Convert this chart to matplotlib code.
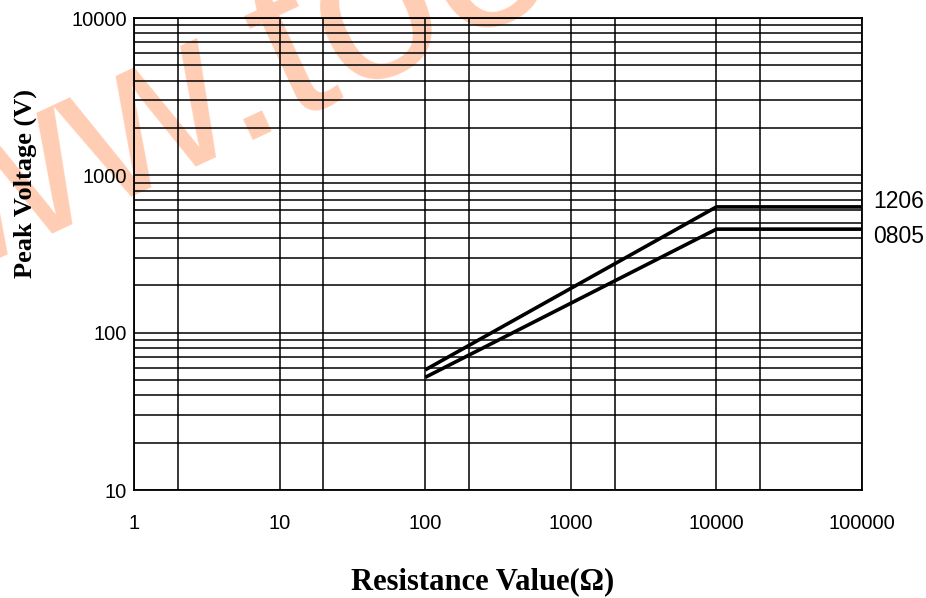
import matplotlib
matplotlib.use("Agg")
import matplotlib.pyplot as plt
from matplotlib.ticker import FixedLocator, FixedFormatter, NullFormatter

# Peak voltage derating curves
resistance_1206 = [100, 10000, 100000]
voltage_1206 = [58, 630, 630]
resistance_0805 = [100, 10000, 100000]
voltage_0805 = [52, 455, 455]
series_labels = ["1206", "0805"]

x_major = [1, 10, 100, 1000, 10000, 100000]
x_minor = [2, 20, 200, 2000, 20000]
y_major = [10, 100, 1000, 10000]
y_minor = [m * d for d in (10, 100, 1000) for m in range(2, 10)]

W, H = 926, 598
fig = plt.figure(figsize=(W / 100, H / 100), dpi=100)
ax = fig.add_axes([134 / W, 1 - 490 / H, (862 - 134) / W, (490 - 18) / H])

ax.set_xscale("log")
ax.set_yscale("log")
ax.set_xlim(1, 100000)
ax.set_ylim(10, 10000)

ax.xaxis.set_major_locator(FixedLocator(x_major))
ax.xaxis.set_minor_locator(FixedLocator(x_minor))
ax.yaxis.set_major_locator(FixedLocator(y_major))
ax.yaxis.set_minor_locator(FixedLocator(y_minor))
ax.xaxis.set_major_formatter(FixedFormatter([str(v) for v in x_major]))
ax.yaxis.set_major_formatter(FixedFormatter([str(v) for v in y_major]))
ax.xaxis.set_minor_formatter(NullFormatter())
ax.yaxis.set_minor_formatter(NullFormatter())

tick_font = ["Liberation Sans", "DejaVu Sans"]
ax.tick_params(which="both", length=0)
ax.tick_params(axis="x", pad=17)
ax.tick_params(axis="y", pad=5)
for lab in ax.get_xticklabels() + ax.get_yticklabels():
    lab.set_family(tick_font)
    lab.set_fontsize(14.5)

ax.grid(True, which="both", color="black", linewidth=1.1)
for sp in ax.spines.values():
    sp.set_linewidth(1.3)

ax.plot(resistance_1206, voltage_1206, color="black", linewidth=2.6, solid_capstyle="butt", zorder=3)
ax.plot(resistance_0805, voltage_0805, color="black", linewidth=2.6, solid_capstyle="butt", zorder=3)

label_offsets = [(8, 4), (8, -5)]
for lbl, xs, ys, off in ((series_labels[0], resistance_1206, voltage_1206, label_offsets[0]),
                         (series_labels[1], resistance_0805, voltage_0805, label_offsets[1])):
    ax.annotate(lbl, xy=(xs[-1], ys[-1]), xytext=off, textcoords="offset points",
                ha="left", va="center", fontsize=16.5, family=tick_font,
                annotation_clip=False)

label_font = ["Liberation Serif", "DejaVu Serif"]
fig.text(483 / W, 1 - 582 / H, "Resistance Value(Ω)", ha="center", va="center",
         fontsize=22, fontweight="bold", family=label_font)
fig.text(25 / W, 1 - 184 / H, "Peak Voltage (V)", ha="center", va="center",
         rotation=90, fontsize=19, fontweight="bold", family=label_font)

# site watermark
ax.text(-185 / W, 1 - 344 / H, "www.tooo", transform=fig.transFigure,
        rotation=25, rotation_mode="anchor", ha="left", va="baseline",
        fontsize=158, family=tick_font, color="#FFCDB3", zorder=0.5,
        clip_on=False)

fig.savefig("out.png", dpi=100)
